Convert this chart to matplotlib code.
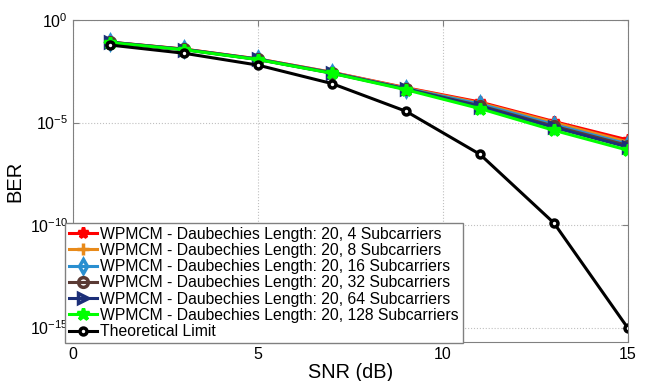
import matplotlib
matplotlib.use("Agg")
import matplotlib.pyplot as plt
import numpy as np

plt.rcParams['font.family'] = ['Liberation Sans', 'DejaVu Sans']
plt.rcParams['mathtext.fontset'] = 'custom'
plt.rcParams['mathtext.rm'] = 'Liberation Sans'
plt.rcParams['mathtext.it'] = 'Liberation Sans'

snr = [1, 3, 5, 7, 9, 11, 13, 15]

# log10(BER) per simulated configuration
ber_4 = [-1.08, -1.42, -1.90, -2.55, -3.30, -4.00, -4.95, -5.85]
ber_8 = [-1.08, -1.42, -1.90, -2.56, -3.32, -4.05, -5.00, -5.95]
ber_16 = [-1.08, -1.43, -1.91, -2.57, -3.34, -4.10, -5.10, -6.05]
ber_32 = [-1.09, -1.43, -1.92, -2.58, -3.36, -4.18, -5.18, -6.12]
ber_64 = [-1.09, -1.44, -1.92, -2.59, -3.37, -4.22, -5.24, -6.20]
ber_128 = [-1.10, -1.45, -1.93, -2.60, -3.40, -4.32, -5.38, -6.35]
ber_theory = [-1.22, -1.62, -2.20, -3.10, -4.45, -6.55, -9.90, -15.03]

labels = [
    'WPMCM - Daubechies Length: 20, 4 Subcarriers',
    'WPMCM - Daubechies Length: 20, 8 Subcarriers',
    'WPMCM - Daubechies Length: 20, 16 Subcarriers',
    'WPMCM - Daubechies Length: 20, 32 Subcarriers',
    'WPMCM - Daubechies Length: 20, 64 Subcarriers',
    'WPMCM - Daubechies Length: 20, 128 Subcarriers',
    'Theoretical Limit',
]

series = [ber_4, ber_8, ber_16, ber_32, ber_64, ber_128, ber_theory]
colors = ['#ff0000', '#e88a1a', '#2a8fd0', '#5a3a34', '#1c2f78', '#00ff00', '#000000']
markers = ['*', '+', 'd', 'o', '>', '*', 'o']
faces = ['#ff0000', 'none', 'none', 'none', 'none', '#00ff00', 'white']
sizes = [8, 9, 7, 7, 7, 9, 5]

fig = plt.figure(figsize=(6.49, 3.81), dpi=100)
ax = fig.add_axes([0.1125, 0.1024, 0.8551, 0.8451])

for vals, c, m, fc, ms, lab in zip(series, colors, markers, faces, sizes, labels):
    ax.semilogy(snr, 10.0 ** np.array(vals), color=c, lw=2.2, marker=m,
                markersize=ms, markerfacecolor=fc, markeredgecolor=c,
                markeredgewidth=2.5, label=lab)

ax.set_xlim(0, 15)
ax.set_ylim(10 ** -15.7, 1)
ax.set_xticks([0, 5, 10, 15])
ax.set_yticks([1e-15, 1e-10, 1e-5, 1e0])
ax.set_yticklabels(['10$^{-15}$', '10$^{-10}$', '10$^{-5}$', '10$^{0}$'])
ax.minorticks_off()
ax.tick_params(labelsize=11.5, direction='in', length=4, color='#808080',
               top=True, right=True)
ax.grid(True, linestyle=':', color='#c0c0c0', linewidth=0.8)
for s in ax.spines.values():
    s.set_color('#808080')

ax.set_xlabel('SNR (dB)', fontsize=14.3, labelpad=1)
ax.set_ylabel('BER', fontsize=14.5, labelpad=4)

leg = ax.legend(loc='lower left', bbox_to_anchor=(65 / 649, 1 - 343 / 381),
                bbox_transform=fig.transFigure, fontsize=11.3,
                handlelength=1.8, handletextpad=0.2, labelspacing=0.08,
                borderpad=0.25, borderaxespad=0, fancybox=False,
                framealpha=1, edgecolor='#808080')
leg.get_frame().set_linewidth(1.0)

fig.savefig('out.png', dpi=100)
